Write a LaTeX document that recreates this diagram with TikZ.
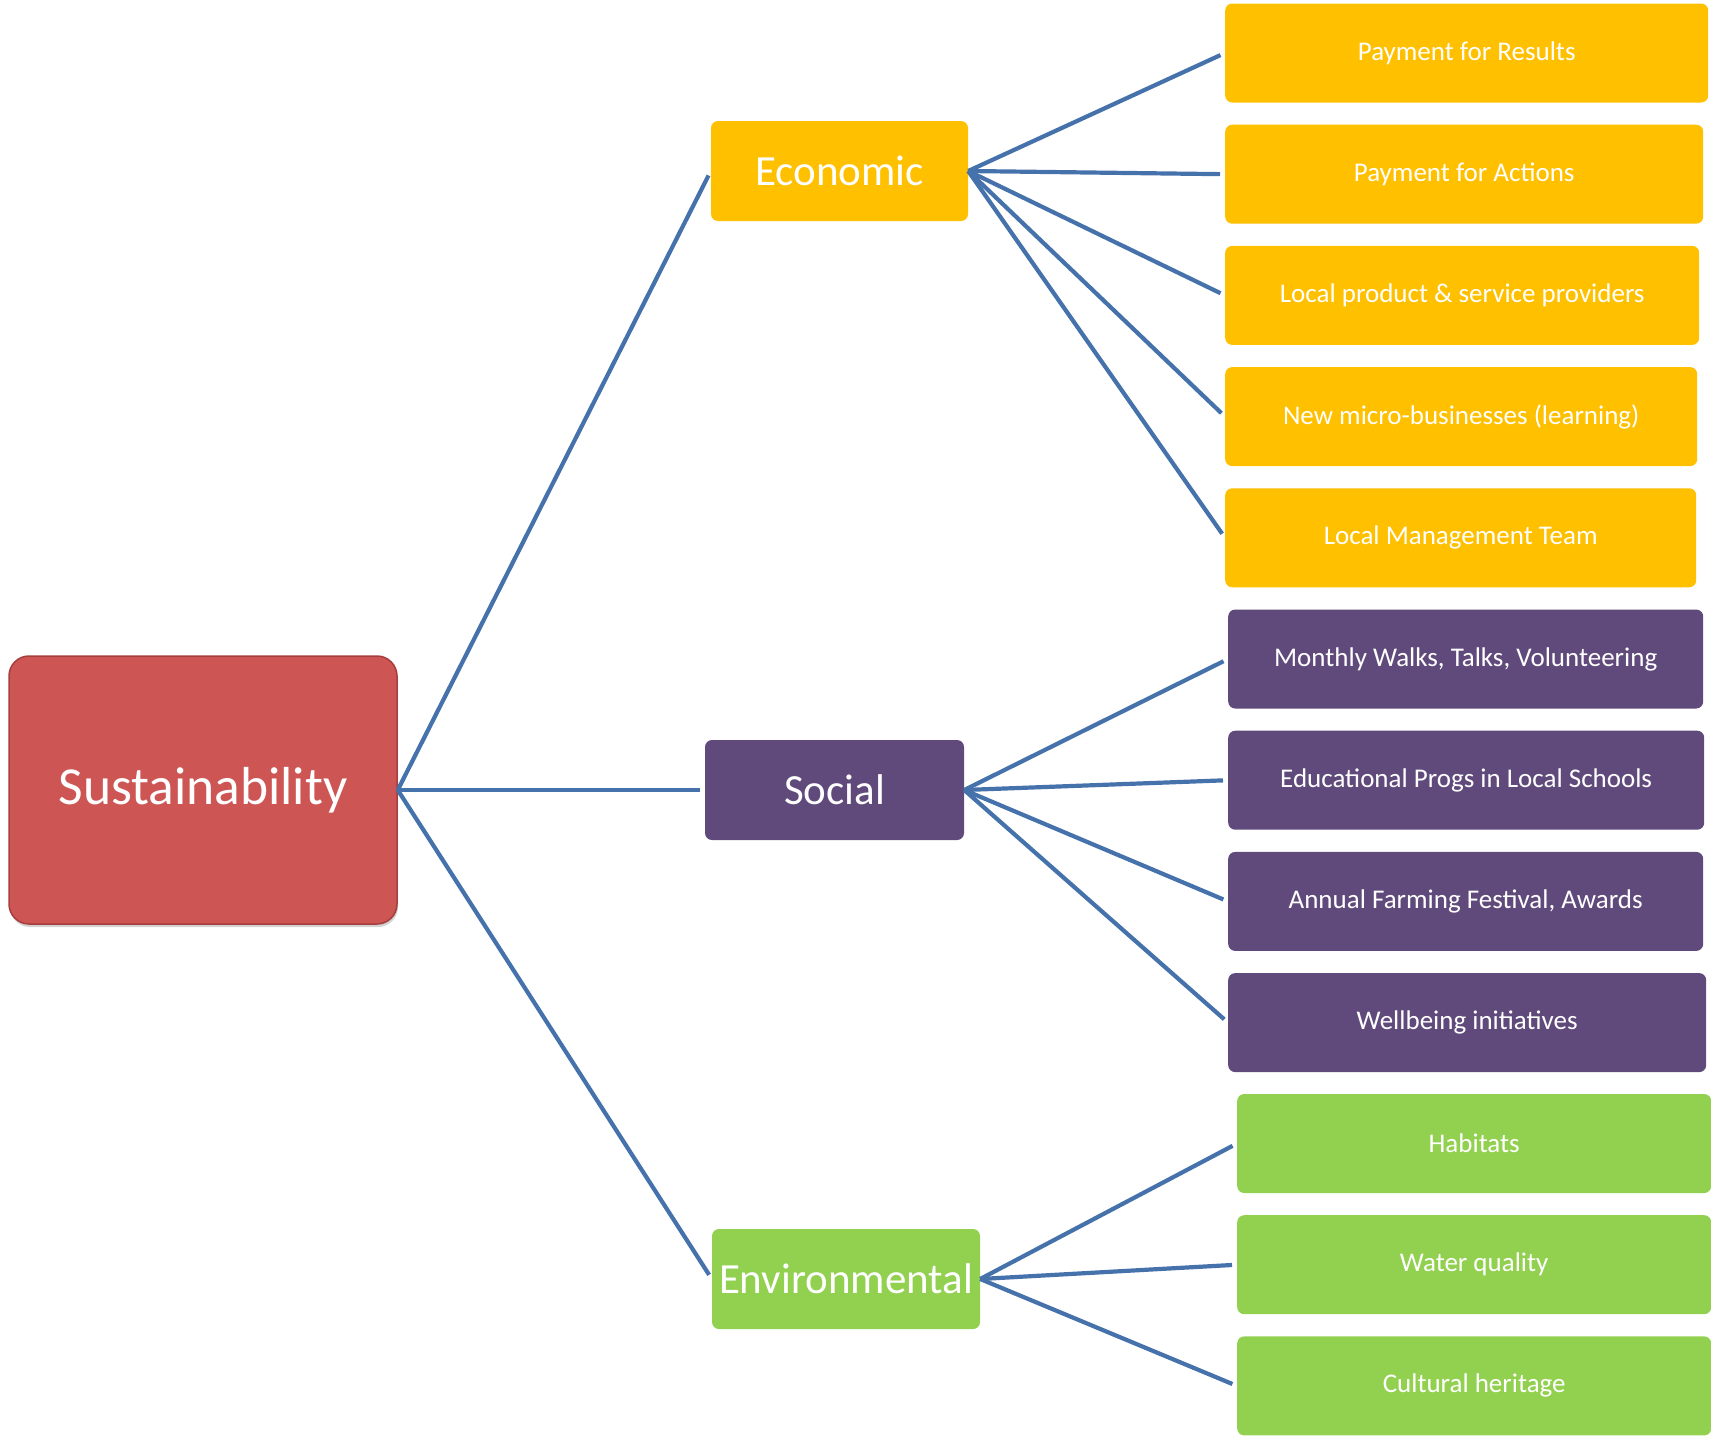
\documentclass[tikz,border=0pt]{standalone}
\usepackage{fontspec}
\setmainfont{Carlito}
\usepackage{tikz}
\usetikzlibrary{shadows}
\definecolor{rootred}{RGB}{205,86,84}
\definecolor{rootedge}{RGB}{165,62,60}
\definecolor{ecoyellow}{RGB}{255,192,0}
\definecolor{socpurple}{RGB}{96,74,123}
\definecolor{envgreen}{RGB}{146,208,80}
\definecolor{linkblue}{RGB}{70,114,172}
\newcommand{\rowstep}{121.2}
\newcommand{\widthleaf}{476pt}
\tikzset{
    common/.style={rectangle, text=white, inner sep=0pt},
    root/.style={common, fill=rootred, draw=rootedge, line width=1.5pt, rounded corners=20pt,
        minimum width=388pt, minimum height=268pt, font=\fontsize{53.5}{62}\selectfont,
        drop shadow={shadow xshift=1pt, shadow yshift=-3pt, opacity=0.35}},
    pillar/.style={common, rounded corners=7pt, minimum height=100pt, font=\fontsize{43}{50}\selectfont},
    leaf/.style={common, anchor=west, rounded corners=7pt, minimum height=99pt,
        minimum width=\widthleaf, font=\fontsize{27}{32}\selectfont},
    eco/.style={fill=ecoyellow},
    soc/.style={fill=socpurple},
    env/.style={fill=envgreen},
    link/.style={linkblue, line width=4.2pt, shorten >=5pt}
}

\begin{document}
\begin{tikzpicture}[x=1pt, y=-1pt]
    \useasboundingbox (0,0) rectangle (1711,1440);

    \node[root] (sust) at (203,790) {Sustainability};
    \node[pillar, eco, minimum width=257pt] (econ) at (839.5,171) {Economic};
    \node[pillar, soc, minimum width=259pt] (social) at (834.5,790) {Social};
    \node[pillar, env, minimum width=268pt] (environ) at (846,1279) {Environmental};

    % economic
    \path (1225,53)
        node[leaf, eco, minimum width=483pt] (results) {Payment for Results}
        ++(0,\rowstep) node[leaf, eco, minimum width=478pt] (actions) {Payment for Actions}
        ++(0,\rowstep) node[leaf, eco, minimum width=474pt] (providers) {Local product \& service providers}
        ++(0,\rowstep) node[leaf, eco, minimum width=472pt] (micro) {New micro-businesses (learning)}
        ++(0,\rowstep) node[leaf, eco, minimum width=471pt] (team) {Local Management Team};

    % social
    \path (1228,659)
        node[leaf, soc, minimum width=475pt] (walks) {Monthly Walks, Talks, Volunteering}
        ++(0,\rowstep) node[leaf, soc] (schools) {Educational Progs in Local Schools}
        ++(0,\rowstep) node[leaf, soc, minimum width=475pt] (festival) {Annual Farming Festival, Awards}
        ++(0,\rowstep) node[leaf, soc, minimum width=478pt] (wellbeing) {Wellbeing initiatives};

    % environmental
    \path (1237,1143.5)
        node[leaf, env, minimum width=474pt] (habitats) {Habitats}
        ++(0,\rowstep) node[leaf, env, minimum width=474pt] (water) {Water quality}
        ++(0,\rowstep) node[leaf, env, minimum width=474pt] (heritage) {Cultural heritage};

    \foreach \pil in {econ, social, environ}
        \draw[link] (sust.east) -- (\pil.west);
    \foreach \lf in {results, actions, providers, micro, team}
        \draw[link] (econ.east) -- (\lf.west);
    \foreach \lf in {walks, schools, festival, wellbeing}
        \draw[link] (social.east) -- (\lf.west);
    \foreach \lf in {habitats, water, heritage}
        \draw[link] (environ.east) -- (\lf.west);
\end{tikzpicture}
\end{document}
